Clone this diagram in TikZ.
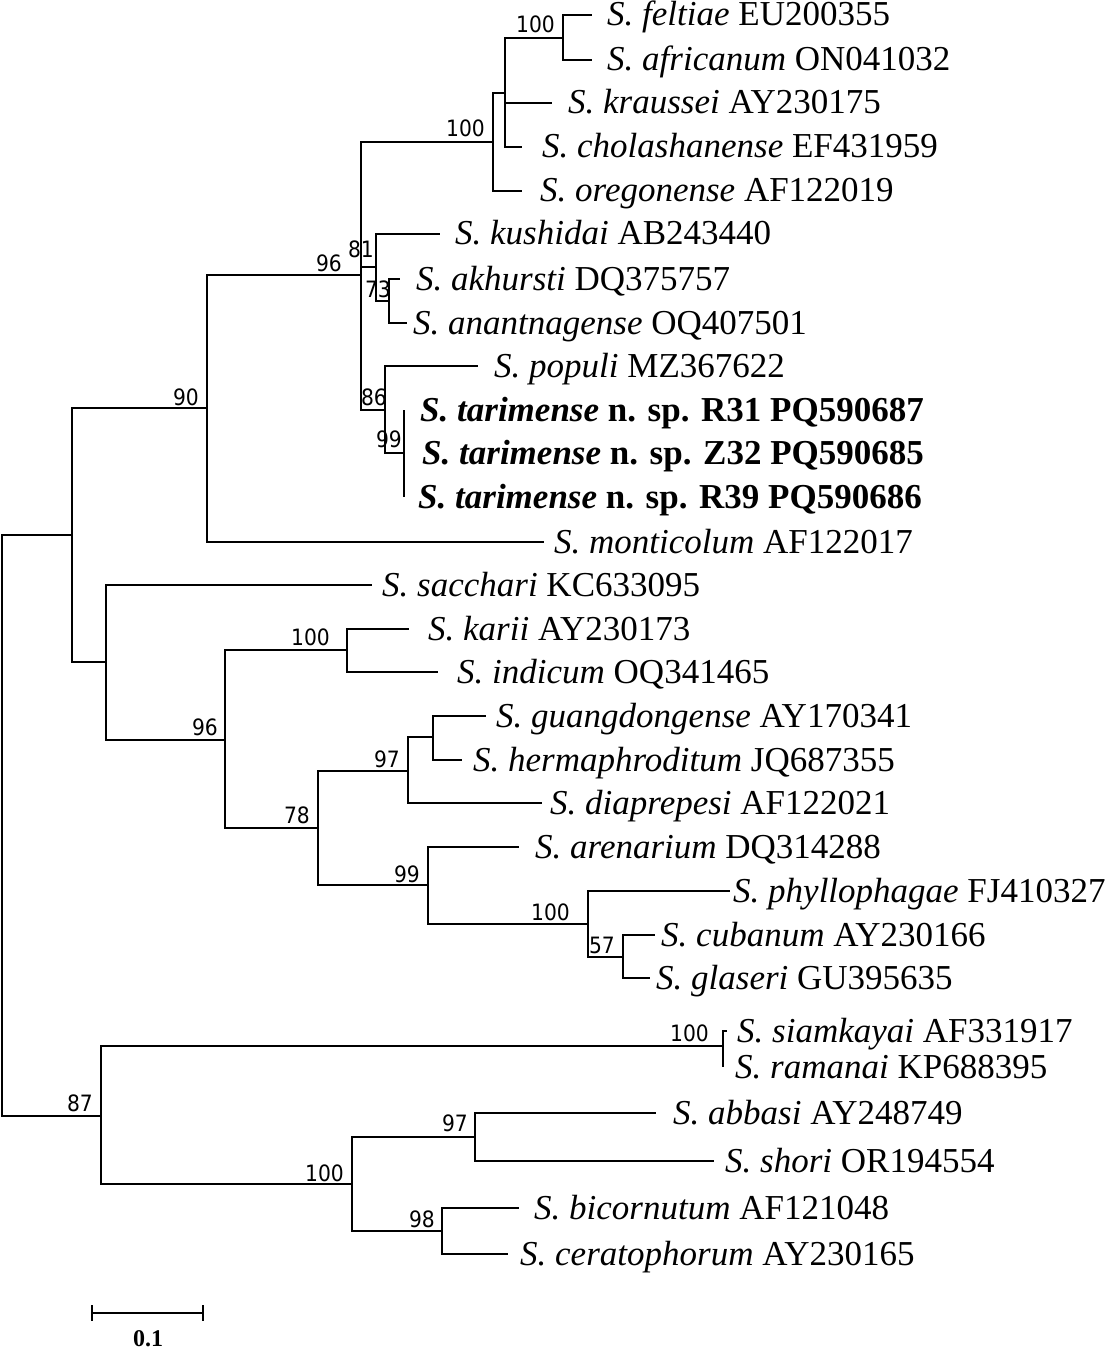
\documentclass[tikz,border=0pt]{standalone}
\usepackage{fontspec}
\setmainfont{Liberation Serif}
\newfontfamily\bsfont[FakeStretch=0.9]{DejaVu Sans}
\begin{document}
\begin{tikzpicture}[x=1bp,y=-1bp,
  br/.style={line width=1.8bp},
  leaf/.style={anchor=base west, inner sep=0pt, font=\fontsize{35bp}{40bp}\selectfont},
  bs/.style={anchor=base east, inner sep=0pt, font=\bsfont\fontsize{22.5bp}{26bp}\selectfont},
  sbl/.style={anchor=base, inner sep=0pt, font=\bfseries\fontsize{24bp}{28bp}\selectfont}]
\fill[white] (0,0) rectangle (1105,1351);
\useasboundingbox (0,0) rectangle (1105,1351);
% internal nodes
\coordinate (root) at (2,825);
\coordinate (n87) at (101,1116);
\coordinate (n72) at (72,535);
\coordinate (n90) at (207,408);
\coordinate (n96) at (361,275);
\coordinate (n100a) at (493,142);
\coordinate (nkr) at (505,93);
\coordinate (nfe) at (563,38);
\coordinate (n81) at (376,267);
\coordinate (n73) at (389,301);
\coordinate (n86) at (385,410);
\coordinate (n99t) at (404,453);
\coordinate (n106) at (106,662);
\coordinate (n96b) at (225,740);
\coordinate (nk100) at (347,650);
\coordinate (n78) at (318,828);
\coordinate (n97) at (408,771);
\coordinate (ngu) at (433,737);
\coordinate (n99) at (428,885);
\coordinate (np100) at (588,924);
\coordinate (n57) at (623,957);
\coordinate (nsi) at (723,1046);
\coordinate (nb100) at (352,1184);
\coordinate (nb97) at (475,1137);
\coordinate (n98) at (442,1231);
% leaf ends
\coordinate (l1) at (592,15);
\coordinate (l2) at (592,60);
\coordinate (l3) at (552,103);
\coordinate (l4) at (522,147);
\coordinate (l5) at (522,191);
\coordinate (l6) at (440,234);
\coordinate (l7) at (400,279);
\coordinate (l8) at (407,323);
\coordinate (l9) at (478,366);
\coordinate (l10) at (404,410);
\coordinate (l11) at (404,453);
\coordinate (l12) at (404,497);
\coordinate (l13) at (544,542);
\coordinate (l14) at (372,585);
\coordinate (l15) at (409,629);
\coordinate (l16) at (438,672);
\coordinate (l17) at (486,716);
\coordinate (l18) at (462,760);
\coordinate (l19) at (542,803);
\coordinate (l20) at (519,847);
\coordinate (l21) at (730,891);
\coordinate (l22) at (655,935);
\coordinate (l23) at (650,978);
\coordinate (l24) at (727,1031);
\coordinate (l25) at (723,1067);
\coordinate (l26) at (656,1113);
\coordinate (l27) at (714,1161);
\coordinate (l28) at (519,1208);
\coordinate (l29) at (508,1254);
% branches
\foreach \a/\b in {root/n72,root/n87,n72/n90,n72/n106,n90/n96,n90/l13,
  n96/n100a,n96/n81,n96/n86,n100a/nkr,n100a/l5,nkr/nfe,nkr/l3,nkr/l4,
  nfe/l1,nfe/l2,n81/l6,n81/n73,n73/l7,n73/l8,n86/l9,n86/n99t,
  n99t/l10,n99t/l11,n99t/l12,n106/l14,n106/n96b,n96b/nk100,n96b/n78,
  nk100/l15,nk100/l16,n78/n97,n78/n99,n97/ngu,n97/l19,ngu/l17,ngu/l18,
  n99/l20,n99/np100,np100/l21,np100/n57,n57/l22,n57/l23,
  n87/nsi,n87/nb100,nsi/l24,nsi/l25,nb100/nb97,nb100/n98,
  nb97/l26,nb97/l27,n98/l28,n98/l29}
  \draw[br] (\a) |- (\b);
% leaf labels
\node[leaf] (t1) at (607,26) {\textit{S. feltiae} EU200355};
\node[leaf] (t2) at (607,71) {\textit{S. africanum} ON041032};
\node[leaf] (t3) at (568,114) {\textit{S. kraussei} AY230175};
\node[leaf] (t4) at (542,158) {\textit{S. cholashanense} EF431959};
\node[leaf] (t5) at (540,202) {\textit{S. oregonense} AF122019};
\node[leaf] (t6) at (455,245) {\textit{S. kushidai} AB243440};
\node[leaf] (t7) at (416,290) {\textit{S. akhursti} DQ375757};
\node[leaf] (t8) at (413,334) {\textit{S. anantnagense} OQ407501};
\node[leaf] (t9) at (494,377) {\textit{S. populi} MZ367622};
\node[leaf] (t10) at (420,421) {\textbf{\textit{S. tarimense} n. sp. R31 PQ590687}};
\node[leaf] (t11) at (422,464) {\textbf{\textit{S. tarimense} n. sp. Z32 PQ590685}};
\node[leaf] (t12) at (418,508) {\textbf{\textit{S. tarimense} n. sp. R39 PQ590686}};
\node[leaf] (t13) at (554,553) {\textit{S. monticolum} AF122017};
\node[leaf] (t14) at (382,596) {\textit{S. sacchari} KC633095};
\node[leaf] (t15) at (428,640) {\textit{S. karii} AY230173};
\node[leaf] (t16) at (457,683) {\textit{S. indicum} OQ341465};
\node[leaf] (t17) at (496,727) {\textit{S. guangdongense} AY170341};
\node[leaf] (t18) at (473,771) {\textit{S. hermaphroditum} JQ687355};
\node[leaf] (t19) at (550,814) {\textit{S. diaprepesi} AF122021};
\node[leaf] (t20) at (535,858) {\textit{S. arenarium} DQ314288};
\node[leaf] (t21) at (733,902) {\textit{S. phyllophagae} FJ410327};
\node[leaf] (t22) at (661,946) {\textit{S. cubanum} AY230166};
\node[leaf] (t23) at (656,989) {\textit{S. glaseri} GU395635};
\node[leaf] (t24) at (737,1042) {\textit{S. siamkayai} AF331917};
\node[leaf] (t25) at (735,1078) {\textit{S. ramanai} KP688395};
\node[leaf] (t26) at (673,1124) {\textit{S. abbasi} AY248749};
\node[leaf] (t27) at (725,1172) {\textit{S. shori} OR194554};
\node[leaf] (t28) at (534,1219) {\textit{S. bicornutum} AF121048};
\node[leaf] (t29) at (520,1265) {\textit{S. ceratophorum} AY230165};
% bootstrap values
\node[bs] (b1) at (555,33) {100};
\node[bs] (b2) at (485,137) {100};
\node[bs] (b3) at (342,271) {96};
\node[bs] (b4) at (374,258) {81};
\node[bs] (b5) at (391,297) {73};
\node[bs] (b6) at (387,405) {86};
\node[bs] (b7) at (402,447) {99};
\node[bs] (b8) at (199,405) {90};
\node[bs] (b9) at (330,645) {100};
\node[bs] (b10) at (218,735) {96};
\node[bs] (b11) at (400,767) {97};
\node[bs] (b12) at (310,823) {78};
\node[bs] (b13) at (420,882) {99};
\node[bs] (b14) at (570,920) {100};
\node[bs] (b15) at (615,953) {57};
\node[bs] (b16) at (709,1041) {100};
\node[bs] (b17) at (93,1111) {87};
\node[bs] (b18) at (344,1181) {100};
\node[bs] (b19) at (468,1131) {97};
\node[bs] (b20) at (435,1227) {98};
% scale bar
\coordinate (sb1) at (92,1313);
\coordinate (sb2) at (203,1313);
\draw[br] (sb1) -- (sb2);
\draw[br] ([yshift=8bp]sb1) -- ([yshift=-8bp]sb1);
\draw[br] ([yshift=8bp]sb2) -- ([yshift=-8bp]sb2);
\node[sbl] (sbt) at (148,1346) {0.1};
\end{tikzpicture}
\end{document}
